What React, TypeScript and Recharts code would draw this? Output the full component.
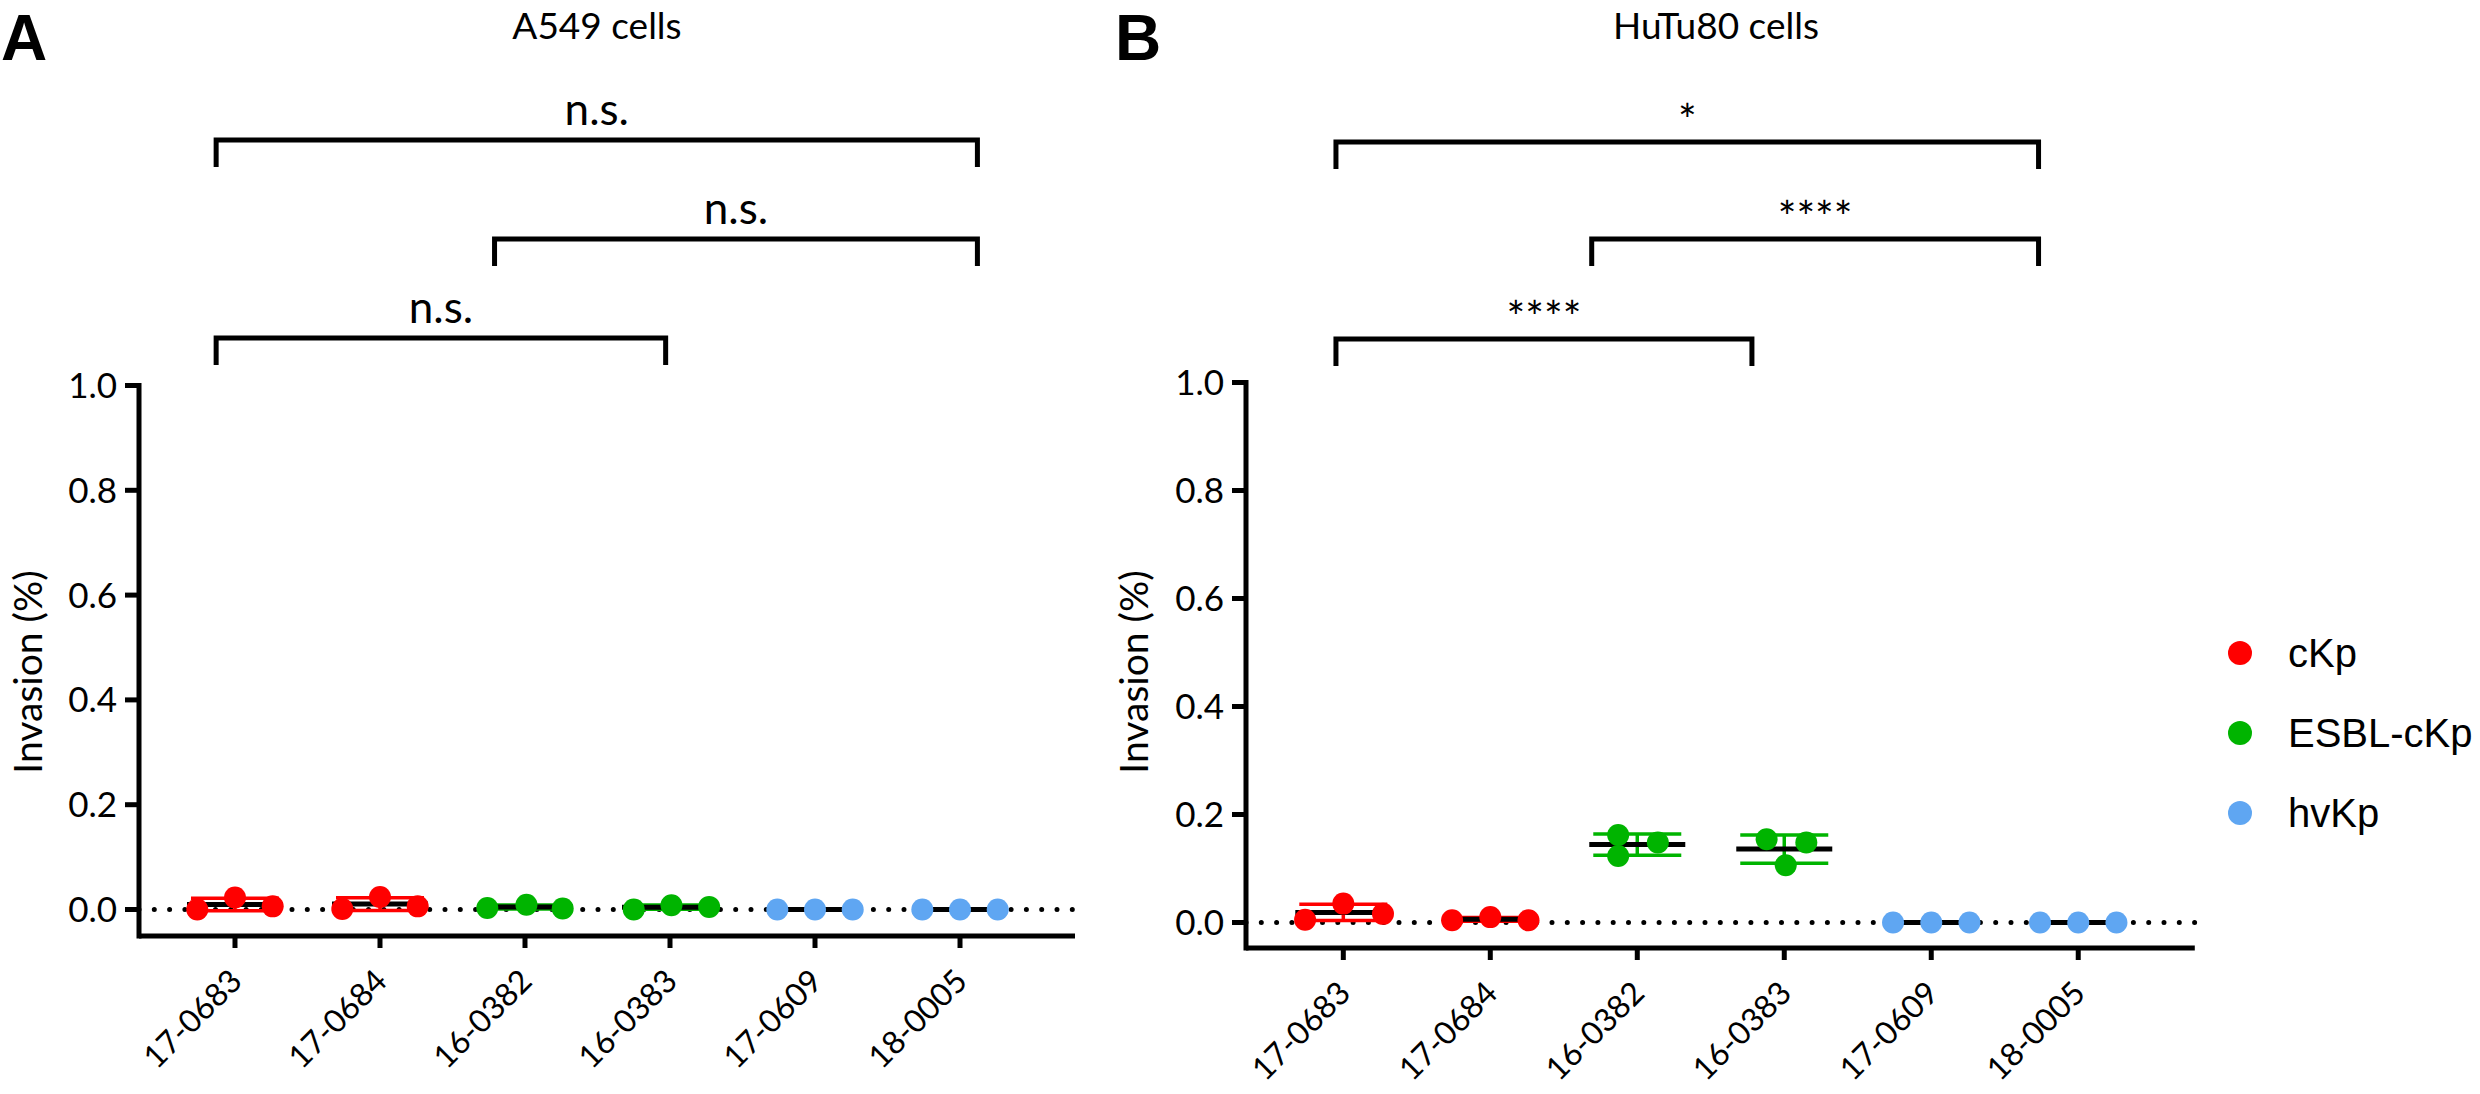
import React from 'react';
import { ScatterChart, Scatter, XAxis, YAxis, ReferenceLine, ErrorBar } from 'recharts';

// ---------- data ----------
const strains = ['17-0683', '17-0684', '16-0382', '16-0383', '17-0609', '18-0005'];
const strainGroupIndex = [0, 0, 1, 1, 2, 2];
const groupNames = ['cKp', 'ESBL-cKp', 'hvKp'];
const groupColors = ['#FF0000', '#00B400', '#5FA6F2'];
const yTicks = [0, 0.2, 0.4, 0.6, 0.8, 1.0];
const xTicks = [0, 1, 2, 3, 4, 5];

// replicate values (Invasion %), one row per strain
const a549Values = [
  [0.0, 0.023, 0.006],
  [0.001, 0.024, 0.006],
  [0.003, 0.009, 0.002],
  [0.0, 0.008, 0.005],
  [0.0, 0.0, 0.0],
  [0.0, 0.0, 0.0],
];
// horizontal spread of replicate dots (in category units)
const a549Spread = [
  [-0.26, 0, 0.26],
  [-0.26, 0, 0.26],
  [-0.26, 0.01, 0.26],
  [-0.25, 0.01, 0.27],
  [-0.26, 0, 0.26],
  [-0.26, 0, 0.26],
];
const hutu80Values = [
  [0.005, 0.035, 0.016],
  [0.004, 0.01, 0.004],
  [0.162, 0.148, 0.123],
  [0.154, 0.148, 0.106],
  [0.0, 0.0, 0.0],
  [0.0, 0.0, 0.0],
];
const hutu80Spread = [
  [-0.26, 0, 0.27],
  [-0.26, 0, 0.26],
  [-0.13, 0.14, -0.13],
  [-0.12, 0.15, 0.01],
  [-0.26, 0, 0.26],
  [-0.26, 0, 0.26],
];

// significance brackets: x ends in category units, level in y units
const a549Comparisons = [
  { from: -0.13, to: 5.12, level: 1.4685, label: 'n.s.' },
  { from: 1.79, to: 5.12, level: 1.2796, label: 'n.s.' },
  { from: -0.13, to: 2.97, level: 1.0907, label: 'n.s.' },
];
const hutu80Comparisons = [
  { from: -0.05, to: 4.73, level: 1.4454, label: '*' },
  { from: 1.69, to: 4.73, level: 1.2657, label: '****' },
  { from: -0.05, to: 2.78, level: 1.0806, label: '****' },
];

// ---------- helpers ----------
const mean = (a: number[]) => a.reduce((s, v) => s + v, 0) / a.length;
const sd = (a: number[]) => {
  const m = mean(a);
  return Math.sqrt(a.reduce((s, v) => s + (v - m) * (v - m), 0) / (a.length - 1));
};

const FONT = 'Lato, sans-serif';
const CHART_H = 1094;

const renderXTick = (props: any) => {
  const { x, y, payload } = props;
  const ax = x + 9;
  const ay = y + 33;
  return (
    <text
      x={ax}
      y={ay}
      transform={`rotate(-45 ${ax} ${ay})`}
      textAnchor="end"
      fontSize={32}
      fontFamily={FONT}
      fill="#000"
    >
      {strains[Math.round(payload.value)]}
    </text>
  );
};

const renderMean = (props: any) => (
  <line
    x1={props.cx - 48}
    x2={props.cx + 48}
    y1={props.cy}
    y2={props.cy}
    stroke="#000"
    strokeWidth={5}
  />
);

const renderNothing = () => <g />;

const makeDot = (color: string) => (props: any) => (
  <circle cx={props.cx} cy={props.cy} r={11} fill={color} />
);

const renderAnnotation = (props: any) => {
  const label = props.payload.label as string;
  const star = label.indexOf('*') >= 0;
  return (
    <text
      x={props.cx}
      y={props.cy - (star ? 6 : 15)}
      textAnchor="middle"
      fontSize={44}
      fontFamily={FONT}
      fill="#000"
    >
      {label}
    </text>
  );
};

type Geom = {
  width: number;
  plotLeft: number;
  plotRight: number;
  zeroY: number;
  unitPx: number;
  bottomY: number;
  xMin: number;
  xMax: number;
  yMax: number;
};

function Panel({
  geom,
  values,
  spread,
  comparisons,
}: {
  geom: Geom;
  values: number[][];
  spread: number[][];
  comparisons: { from: number; to: number; level: number; label: string }[];
}) {
  const { width, plotLeft, plotRight, zeroY, unitPx, bottomY, xMin, xMax, yMax } = geom;
  const yMin = -(bottomY - zeroY) / unitPx;
  const top = zeroY - yMax * unitPx;
  const xAxisH = 140;
  const yAxisW = 100;
  const margin = {
    top,
    right: width - plotRight,
    bottom: CHART_H - bottomY - xAxisH,
    left: plotLeft - yAxisW,
  };
  const legDrop = 27 / unitPx;

  const dotData = groupNames.map((_, g) => {
    const pts: { x: number; y: number }[] = [];
    values.forEach((reps, i) => {
      if (strainGroupIndex[i] !== g) return;
      reps.forEach((v, k) => pts.push({ x: i + spread[i][k], y: v }));
    });
    return pts;
  });
  const summaryData = groupNames.map((_, g) =>
    values
      .map((reps, i) => ({ x: i, y: mean(reps), sd: sd(reps), g: strainGroupIndex[i] }))
      .filter((d) => d.g === g)
  );
  const annotations = comparisons.map((c) => ({ x: (c.from + c.to) / 2, y: c.level, label: c.label }));

  return (
    <ScatterChart width={width} height={CHART_H} margin={margin}>
      <XAxis
        type="number"
        dataKey="x"
        domain={[xMin, xMax]}
        allowDataOverflow
        ticks={xTicks}
        interval={0}
        tick={renderXTick}
        tickLine={{ stroke: '#000', strokeWidth: 5 }}
        axisLine={{ stroke: '#000', strokeWidth: 5 }}
        tickSize={12}
        tickMargin={2}
        height={xAxisH}
      />
      <YAxis
        type="number"
        dataKey="y"
        domain={[yMin, yMax]}
        allowDataOverflow
        ticks={yTicks}
        interval={0}
        tickFormatter={(v: number) => v.toFixed(1)}
        tick={{ fill: '#000', fontSize: 35, fontFamily: FONT }}
        tickLine={{ stroke: '#000', strokeWidth: 5 }}
        axisLine={false}
        tickSize={14}
        tickMargin={8}
        width={yAxisW}
      />
      <ReferenceLine
        y={0}
        stroke="#000"
        strokeWidth={5}
        strokeDasharray="0 15.3"
        strokeLinecap="round"
        ifOverflow="visible"
      />
      <ReferenceLine
        segment={[
          { x: xMin, y: yMin },
          { x: xMin, y: 1.0 },
        ]}
        stroke="#000"
        strokeWidth={5}
        strokeLinecap="square"
        ifOverflow="visible"
      />
      {comparisons.map((c, idx) => (
        <Scatter
          key={`br${idx}`}
          data={[
            { x: c.from, y: c.level - legDrop },
            { x: c.from, y: c.level },
            { x: c.to, y: c.level },
            { x: c.to, y: c.level - legDrop },
          ]}
          line={{ stroke: '#000', strokeWidth: 5 }}
          lineType="joint"
          shape={renderNothing}
          legendType="none"
          isAnimationActive={false}
        />
      ))}
      {groupNames.map((name, g) => (
        <Scatter
          key={`sd${g}`}
          name={`${name} SD`}
          data={summaryData[g].filter((d) => d.sd > 0)}
          shape={renderNothing}
          legendType="none"
          isAnimationActive={false}
        >
          <ErrorBar
            dataKey="sd"
            direction="y"
            width={44}
            stroke={groupColors[g]}
            strokeWidth={3.5}
            isAnimationActive={false}
          />
        </Scatter>
      ))}
      {groupNames.map((name, g) => (
        <Scatter
          key={`mean${g}`}
          name={`${name} mean`}
          data={summaryData[g]}
          shape={renderMean}
          legendType="none"
          isAnimationActive={false}
        />
      ))}
      {groupNames.map((name, g) => (
        <Scatter
          key={`dots${g}`}
          name={name}
          data={dotData[g]}
          fill={groupColors[g]}
          shape={makeDot(groupColors[g])}
          isAnimationActive={false}
        />
      ))}
      <Scatter data={annotations} shape={renderAnnotation} legendType="none" isAnimationActive={false} />
    </ScatterChart>
  );
}

const geomA: Geom = {
  width: 1110,
  plotLeft: 139,
  plotRight: 1075,
  zeroY: 909.5,
  unitPx: 524,
  bottomY: 936,
  xMin: -0.662,
  xMax: 5.793,
  yMax: 1.6,
};
const geomB: Geom = {
  width: 1120,
  plotLeft: 146,
  plotRight: 1094.8,
  zeroY: 922.5,
  unitPx: 540,
  bottomY: 948,
  xMin: -0.662,
  xMax: 5.793,
  yMax: 1.6,
};

export default function App() {
  return (
    <div style={{ position: 'absolute', left: 0, top: 0, width: 2480, height: 1094, background: '#fff', overflow: 'hidden' }}>
      <div style={{ position: 'absolute', left: 0, top: 0 }}>
        <Panel geom={geomA} values={a549Values} spread={a549Spread} comparisons={a549Comparisons} />
      </div>
      <div style={{ position: 'absolute', left: 1100, top: 0 }}>
        <Panel geom={geomB} values={hutu80Values} spread={hutu80Spread} comparisons={hutu80Comparisons} />
      </div>
      <svg width={2480} height={1094} style={{ position: 'absolute', left: 0, top: 0, pointerEvents: 'none' }}>
        <text x={1} y={60} fontFamily="Liberation Sans, Arial, sans-serif" fontWeight="bold" fontSize={64} fill="#000">A</text>
        <text x={1115} y={60} fontFamily="Liberation Sans, Arial, sans-serif" fontWeight="bold" fontSize={64} fill="#000">B</text>
        <text x={597} y={39} textAnchor="middle" fontFamily={FONT} fontSize={37} fill="#000">A549 cells</text>
        <text x={1716} y={39} textAnchor="middle" fontFamily={FONT} fontSize={37} fill="#000">HuTu80 cells</text>
        <text x={27} y={672} transform="rotate(-90 27 672)" textAnchor="middle" dominantBaseline="central" fontFamily={FONT} fontSize={39} fill="#000">Invasion (%)</text>
        <text x={1133} y={672} transform="rotate(-90 1133 672)" textAnchor="middle" dominantBaseline="central" fontFamily={FONT} fontSize={39} fill="#000">Invasion (%)</text>
        {groupNames.map((name, g) => (
          <g key={name}>
            <circle cx={2240} cy={653 + g * 80} r={12} fill={groupColors[g]} />
            <text x={2288} y={667 + g * 80} fontFamily="Liberation Sans, Arial, sans-serif" fontSize={40} fill="#000">{name}</text>
          </g>
        ))}
      </svg>
    </div>
  );
}
